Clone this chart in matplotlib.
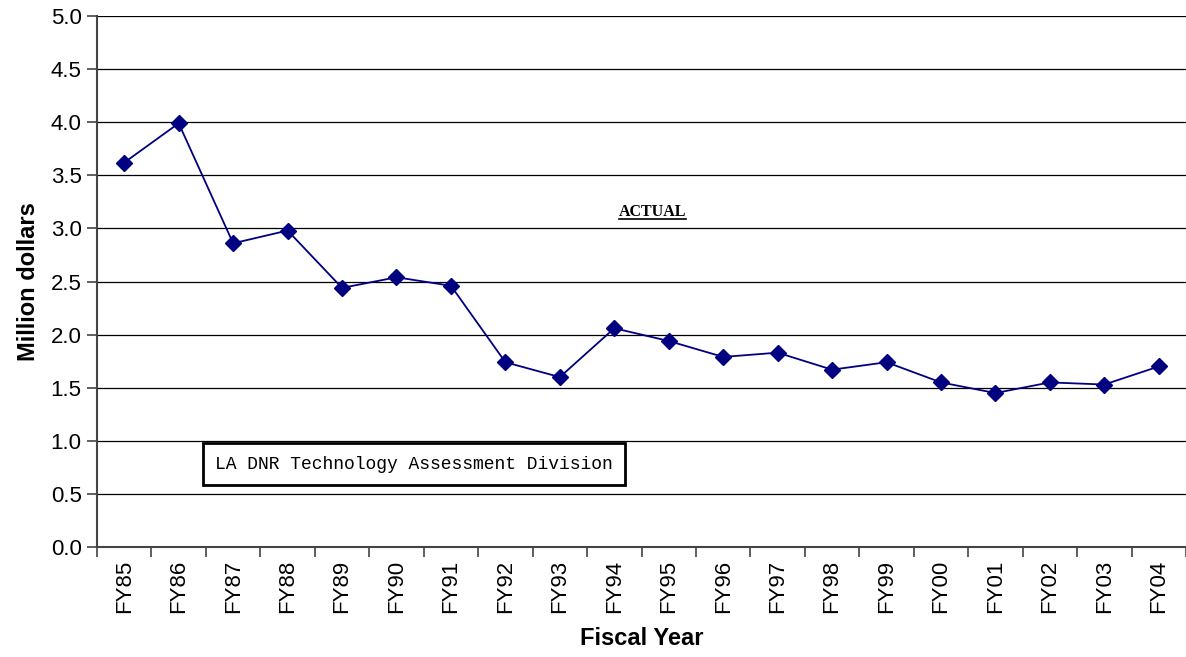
import matplotlib
matplotlib.use('Agg')
import matplotlib.pyplot as plt
from matplotlib.lines import Line2D
import numpy as np

# fiscal years and spending (million dollars)
years = ['FY85', 'FY86', 'FY87', 'FY88', 'FY89', 'FY90', 'FY91', 'FY92', 'FY93', 'FY94',
         'FY95', 'FY96', 'FY97', 'FY98', 'FY99', 'FY00', 'FY01', 'FY02', 'FY03', 'FY04']
actual = [3.62, 3.99, 2.86, 2.98, 2.44, 2.54, 2.46, 1.74, 1.60, 2.06,
          1.94, 1.79, 1.83, 1.67, 1.74, 1.55, 1.45, 1.55, 1.53, 1.70]
yticks = [0.0, 0.5, 1.0, 1.5, 2.0, 2.5, 3.0, 3.5, 4.0, 4.5, 5.0]

plt.rcParams['font.family'] = ['Liberation Sans', 'DejaVu Sans']

fig = plt.figure(figsize=(11.86, 6.57), dpi=100)
ax = fig.add_axes([0.0818, 0.1674, 0.9182, 0.8082])

x = np.arange(len(years))
ax.plot(x, actual, color='#000080', lw=1.3, marker='D', markersize=8,
        markerfacecolor='#000080', markeredgecolor='#000080')

ax.set_xlim(-0.5, len(years) - 0.5)
ax.set_ylim(0, 5.0)
ax.set_yticks(yticks)
ax.set_yticklabels(['%.1f' % v for v in yticks], fontsize=16)
ax.set_xticks(x)
ax.set_xticklabels(years, rotation=90, fontsize=16)
ax.set_xticks(np.arange(len(years) + 1) - 0.5, minor=True)
ax.tick_params(axis='x', which='major', length=0, pad=9)
ax.tick_params(axis='x', which='minor', length=7, width=1.2, color='#444444')
ax.tick_params(axis='y', length=7, width=1.2, color='#444444', pad=4)

ax.grid(axis='y', color='black', lw=0.9)
ax.set_axisbelow(True)
for s in ['top', 'right']:
    ax.spines[s].set_visible(False)
for s in ['left', 'bottom']:
    ax.spines[s].set_color('#444444')
    ax.spines[s].set_linewidth(1.5)

ax.set_xlabel('Fiscal Year', fontsize=17, fontweight='bold', labelpad=10)
ax.set_ylabel('Million dollars', fontsize=17, fontweight='bold', labelpad=8)

lbl = ax.text(0.51, 0.631, 'ACTUAL', transform=ax.transAxes, family='Liberation Serif',
              ha='center', va='center', fontsize=11.5, fontweight='bold')
ax.text(0.291, 0.156, 'LA DNR Technology Assessment Division', transform=ax.transAxes,
        ha='center', va='center', fontsize=13, family='Liberation Mono',
        bbox=dict(boxstyle='square,pad=0.68', facecolor='white', edgecolor='black', lw=2))

# underline under ACTUAL
fig.canvas.draw()
bb = lbl.get_window_extent()
W, H = fig.bbox.width, fig.bbox.height
yl = (bb.y0 + 1) / H
fig.add_artist(Line2D([bb.x0 / W, bb.x1 / W], [yl, yl], color='black', lw=1.2))

fig.savefig('out.png', dpi=100)
